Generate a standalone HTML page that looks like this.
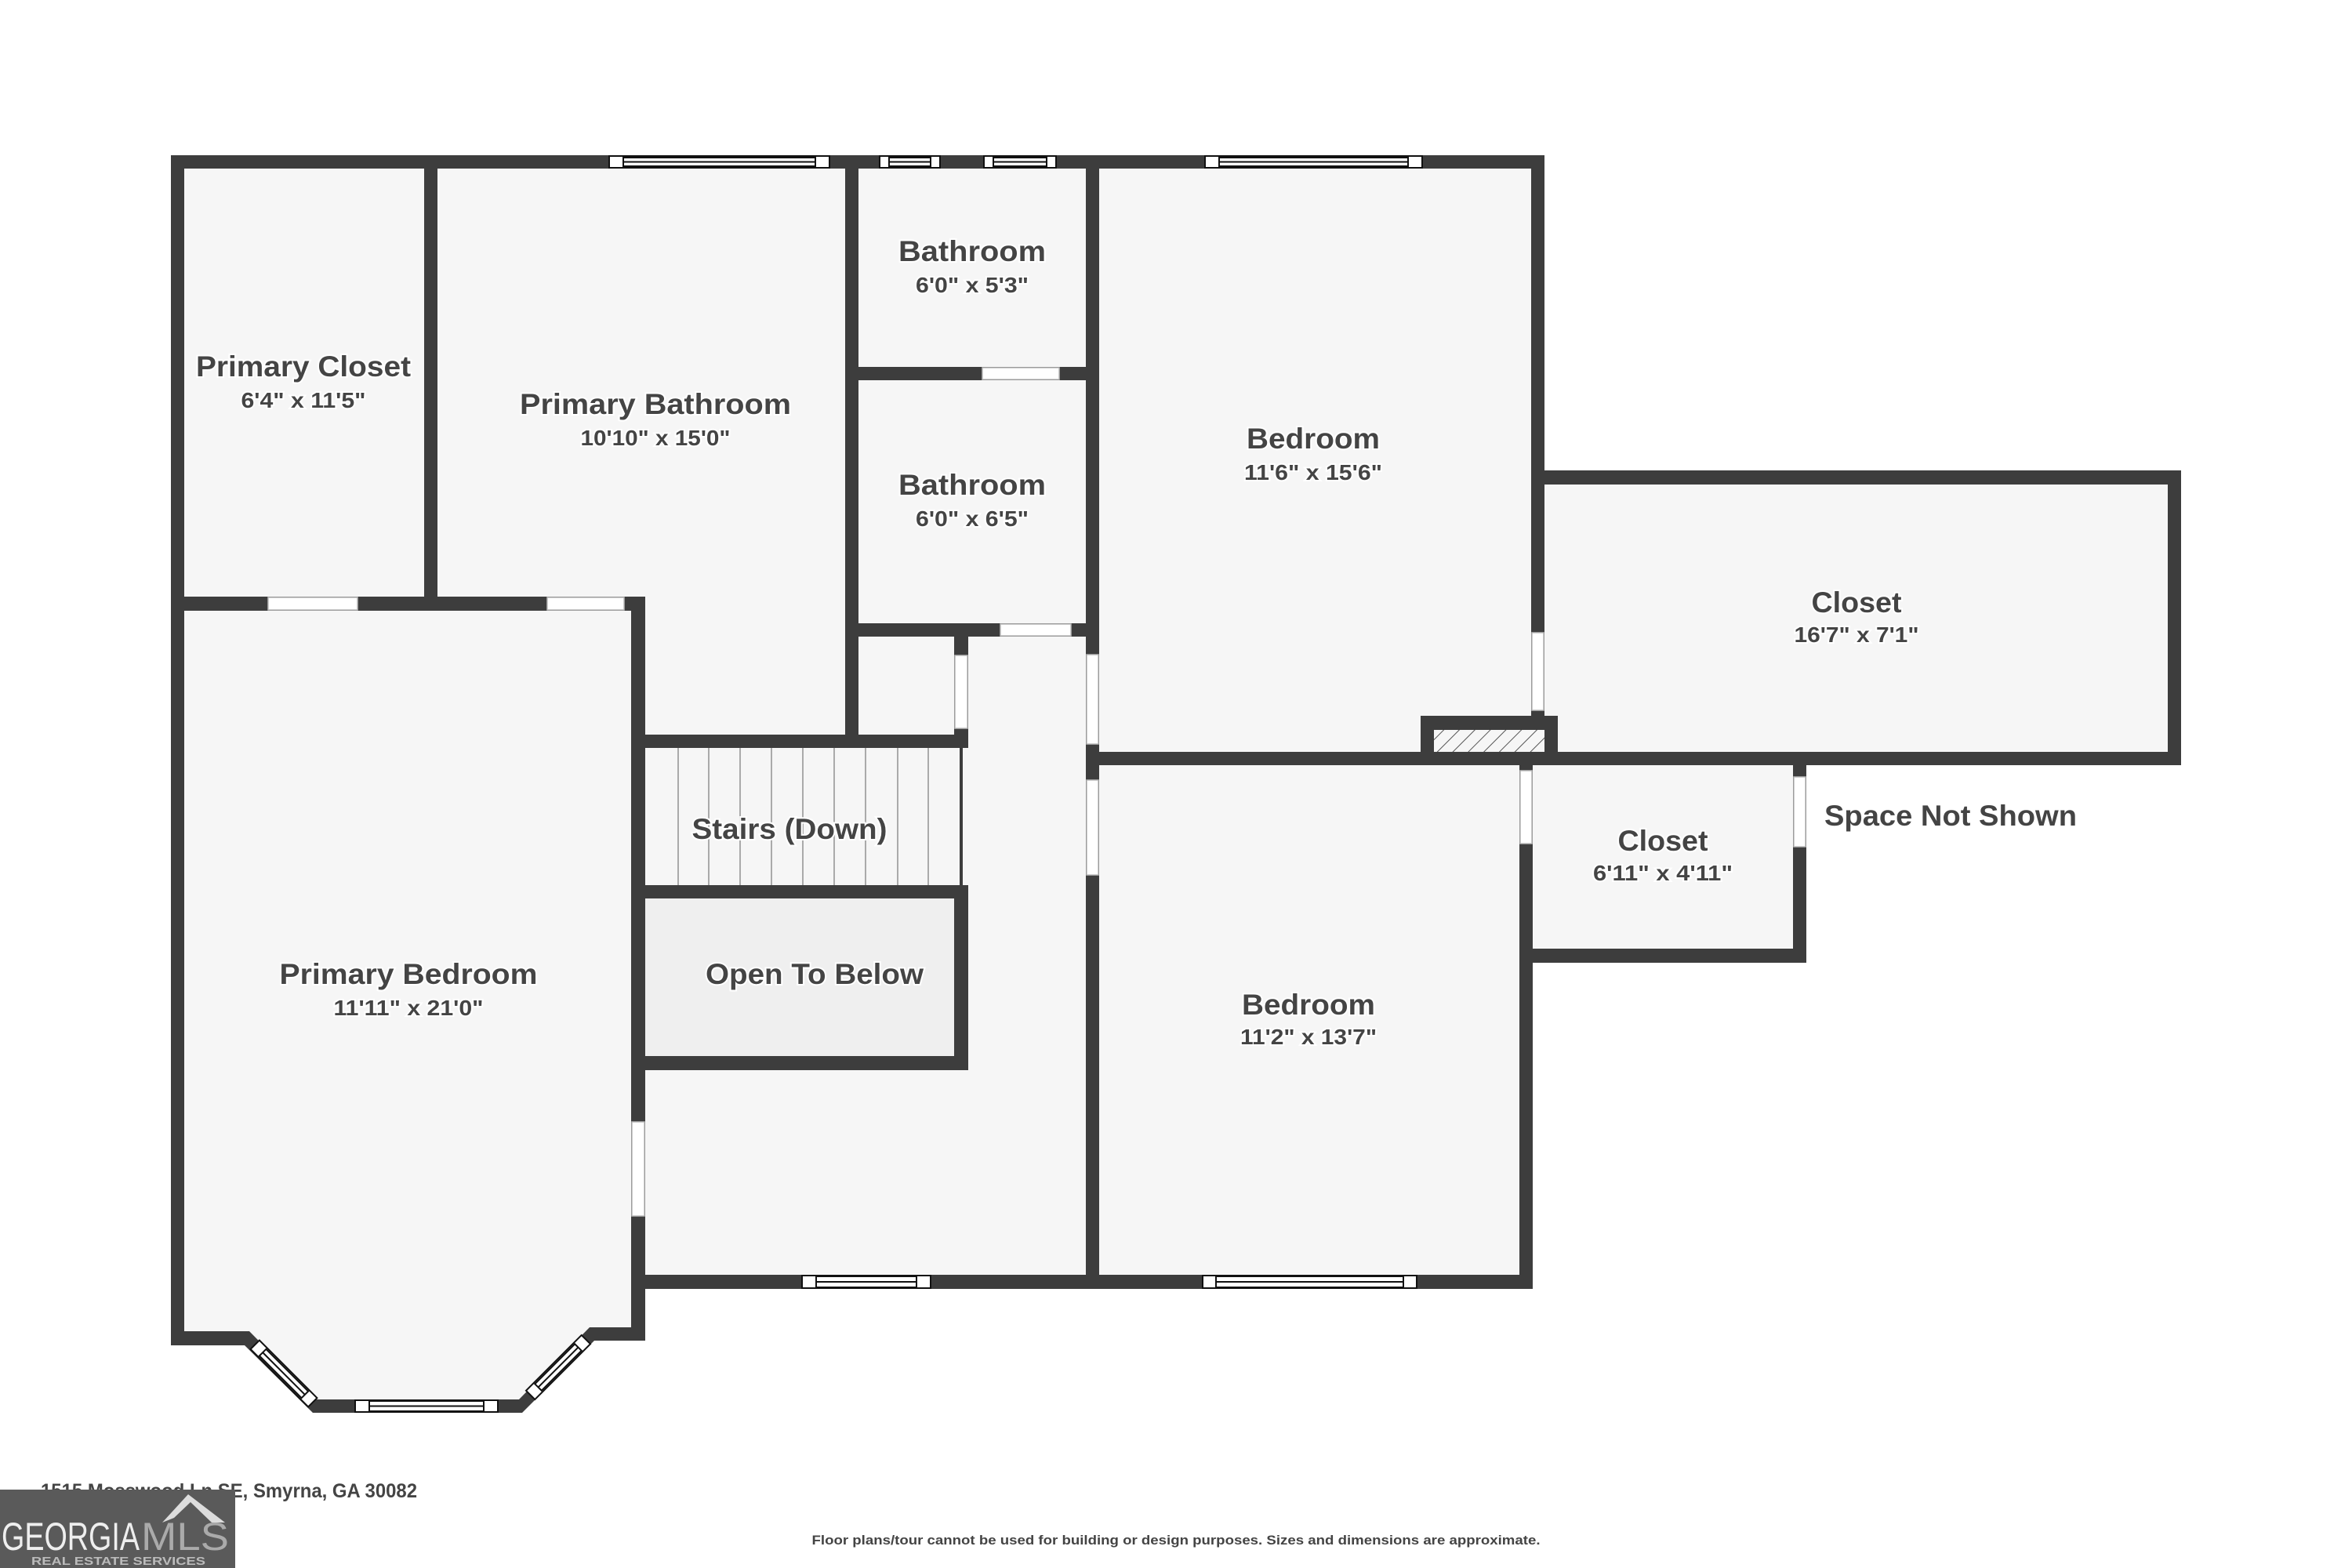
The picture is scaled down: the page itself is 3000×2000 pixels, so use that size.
<!DOCTYPE html>
<html><head><meta charset="utf-8"><style>
html,body{margin:0;padding:0;background:#fff;}
svg{display:block;}
.t{font-family:"Liberation Sans",sans-serif;font-weight:bold;fill:#444;text-anchor:middle;paint-order:stroke;stroke:#fff;stroke-width:4px;}
.ti{font-size:37px;}
.di{font-size:28px;}
</style></head><body>
<svg width="3000" height="2000" viewBox="0 0 3000 2000" xmlns="http://www.w3.org/2000/svg">
<defs>
<pattern id="hatch" width="14" height="14" patternUnits="userSpaceOnUse" patternTransform="rotate(45)">
<rect width="14" height="14" fill="#f6f6f6"/><line x1="0" y1="0" x2="0" y2="14" stroke="#555" stroke-width="2"/>
</pattern>
</defs>
<rect width="3000" height="2000" fill="#fff"/>
<!-- floors -->
<g fill="#f6f6f6">
<rect x="218" y="198" width="1752" height="777"/>
<rect x="218" y="975" width="1737" height="669"/>
<rect x="1953" y="600" width="829" height="376"/>
<rect x="1938" y="960" width="366" height="268"/>
<polygon points="218,1640 823,1640 823,1710 758,1710 666,1802 399,1802 312,1716 218,1716"/>
</g>
<rect x="823" y="1146" width="394" height="201" fill="#efefef"/>
<!-- stair treads -->
<g stroke="#aaa" stroke-width="2">
<line x1="865" y1="954" x2="865" y2="1129"/><line x1="904" y1="954" x2="904" y2="1129"/>
<line x1="944" y1="954" x2="944" y2="1129"/><line x1="984" y1="954" x2="984" y2="1129"/>
<line x1="1024" y1="954" x2="1024" y2="1129"/><line x1="1064" y1="954" x2="1064" y2="1129"/>
<line x1="1104" y1="954" x2="1104" y2="1129"/><line x1="1145" y1="954" x2="1145" y2="1129"/>
<line x1="1184" y1="954" x2="1184" y2="1129"/>
</g>
<line x1="1226" y1="954" x2="1226" y2="1129" stroke="#3d3d3d" stroke-width="4"/>
<!-- walls -->
<g fill="#3d3d3d">
<rect x="218" y="198" width="1752" height="17"/>
<rect x="218" y="198" width="17" height="1518"/>
<rect x="541" y="198" width="17" height="581"/>
<rect x="218" y="761" width="604" height="18"/>
<rect x="805" y="761" width="18" height="949"/>
<polygon points="218,1698 318,1698 404,1785 662,1785 752,1693 823,1693 823,1710 758,1710 666,1802 399,1802 312,1716 218,1716"/>
<rect x="1078" y="198" width="17" height="756"/>
<rect x="805" y="937" width="430" height="17"/>
<rect x="1217" y="795" width="18" height="159"/>
<rect x="1078" y="468" width="324" height="17"/>
<rect x="1078" y="795" width="324" height="17"/>
<rect x="1385" y="198" width="17" height="1446"/>
<rect x="805" y="1129" width="430" height="17"/>
<rect x="1217" y="1129" width="18" height="236"/>
<rect x="805" y="1347" width="430" height="18"/>
<rect x="805" y="1626" width="1150" height="18"/>
<rect x="1953" y="198" width="17" height="777"/>
<rect x="1385" y="959" width="1397" height="17"/>
<rect x="1953" y="600" width="829" height="18"/>
<rect x="2765" y="600" width="17" height="376"/>
<rect x="1812" y="913" width="175" height="62"/>
<rect x="1938" y="959" width="17" height="685"/>
<rect x="2287" y="959" width="17" height="269"/>
<rect x="1938" y="1210" width="366" height="18"/>
</g>
<rect x="1829" y="931" width="141" height="28" fill="url(#hatch)"/>
<!-- door openings -->
<g fill="#fff" stroke="#bbb" stroke-width="1.5">
<rect x="342" y="762" width="114" height="16"/>
<rect x="698" y="762" width="98" height="16"/>
<rect x="806" y="1431" width="16" height="120"/>
<rect x="1218" y="836" width="16" height="93"/>
<rect x="1253" y="469" width="98" height="15"/>
<rect x="1276" y="796" width="90" height="15"/>
<rect x="1386" y="835" width="15" height="114"/>
<rect x="1386" y="995" width="15" height="121"/>
<rect x="1954" y="807" width="15" height="99"/>
<rect x="1939" y="983" width="15" height="93"/>
<rect x="2288" y="991" width="15" height="89"/>
</g>
<!-- windows -->
<g fill="#fff" stroke="#111" stroke-width="2">
<g><rect x="777" y="199" width="281" height="15"/><rect x="795" y="201" width="245" height="11"/><line x1="795" y1="206.5" x2="1040" y2="206.5"/></g>
<g><rect x="1122" y="199" width="77" height="15"/><rect x="1134" y="201" width="53" height="11"/><line x1="1134" y1="206.5" x2="1187" y2="206.5"/></g>
<g><rect x="1255" y="199" width="92" height="15"/><rect x="1267" y="201" width="68" height="11"/><line x1="1267" y1="206.5" x2="1335" y2="206.5"/></g>
<g><rect x="1537" y="199" width="277" height="15"/><rect x="1555" y="201" width="241" height="11"/><line x1="1555" y1="206.5" x2="1796" y2="206.5"/></g>
<g><rect x="1023" y="1627" width="164" height="16"/><rect x="1041" y="1628" width="128" height="14"/><line x1="1041" y1="1635" x2="1169" y2="1635"/></g>
<g><rect x="1534" y="1627" width="273" height="16"/><rect x="1551" y="1628" width="239" height="14"/><line x1="1551" y1="1635" x2="1790" y2="1635"/></g>
<g><rect x="453" y="1786" width="182" height="15"/><rect x="471" y="1787" width="146" height="13"/><line x1="471" y1="1793.5" x2="617" y2="1793.5"/></g>
<g transform="translate(362,1752) rotate(45)"><rect x="-52" y="-8" width="104" height="16"/><rect x="-38" y="-6" width="76" height="12"/><line x1="-38" y1="0" x2="38" y2="0"/></g>
<g transform="translate(712,1744) rotate(-45)"><rect x="-50" y="-8" width="100" height="16"/><rect x="-36" y="-6" width="72" height="12"/><line x1="-36" y1="0" x2="36" y2="0"/></g>
</g>
<!-- labels -->
<text class="t ti" x="387" y="480" textLength="274" lengthAdjust="spacingAndGlyphs">Primary Closet</text>
<text class="t di" x="387" y="520" textLength="159" lengthAdjust="spacingAndGlyphs">6'4" x 11'5"</text>
<text class="t ti" x="836" y="528" textLength="346" lengthAdjust="spacingAndGlyphs">Primary Bathroom</text>
<text class="t di" x="836" y="568" textLength="191" lengthAdjust="spacingAndGlyphs">10'10" x 15'0"</text>
<text class="t ti" x="1240" y="333" textLength="188" lengthAdjust="spacingAndGlyphs">Bathroom</text>
<text class="t di" x="1240" y="373" textLength="144" lengthAdjust="spacingAndGlyphs">6'0" x 5'3"</text>
<text class="t ti" x="1240" y="631" textLength="188" lengthAdjust="spacingAndGlyphs">Bathroom</text>
<text class="t di" x="1240" y="671" textLength="144" lengthAdjust="spacingAndGlyphs">6'0" x 6'5"</text>
<text class="t ti" x="1675" y="572" textLength="170" lengthAdjust="spacingAndGlyphs">Bedroom</text>
<text class="t di" x="1675" y="612" textLength="176" lengthAdjust="spacingAndGlyphs">11'6" x 15'6"</text>
<text class="t ti" x="2368" y="781" textLength="115" lengthAdjust="spacingAndGlyphs">Closet</text>
<text class="t di" x="2368" y="819" textLength="159" lengthAdjust="spacingAndGlyphs">16'7" x 7'1"</text>
<text class="t ti" x="1007" y="1070" textLength="249" lengthAdjust="spacingAndGlyphs">Stairs (Down)</text>
<text class="t ti" x="1039" y="1255" textLength="278" lengthAdjust="spacingAndGlyphs">Open To Below</text>
<text class="t ti" x="521" y="1255" textLength="329" lengthAdjust="spacingAndGlyphs">Primary Bedroom</text>
<text class="t di" x="521" y="1295" textLength="191" lengthAdjust="spacingAndGlyphs">11'11" x 21'0"</text>
<text class="t ti" x="2121" y="1085" textLength="115" lengthAdjust="spacingAndGlyphs">Closet</text>
<text class="t di" x="2121" y="1123" textLength="178" lengthAdjust="spacingAndGlyphs">6'11" x 4'11"</text>
<text class="t ti" x="1669" y="1294" textLength="170" lengthAdjust="spacingAndGlyphs">Bedroom</text>
<text class="t di" x="1669" y="1332" textLength="174" lengthAdjust="spacingAndGlyphs">11'2" x 13'7"</text>
<text class="t ti" x="2488" y="1053" textLength="322" lengthAdjust="spacingAndGlyphs">Space Not Shown</text>
<!-- footer -->
<text class="t" x="292" y="1910" font-size="25" textLength="480" lengthAdjust="spacingAndGlyphs" style="stroke:none">1515 Mosswood Ln SE, Smyrna, GA 30082</text>
<text class="t" x="1500" y="1970" font-size="17" textLength="929" lengthAdjust="spacingAndGlyphs" style="stroke:none">Floor plans/tour cannot be used for building or design purposes. Sizes and dimensions are approximate.</text>
<rect x="0" y="1900" width="300" height="100" fill="#5a5a5a"/>
<polygon points="207,1942 240,1906 287,1942 270,1942 243,1916 222,1936" fill="#ddd"/>
<text x="2" y="1977" font-family="Liberation Sans,sans-serif" font-size="50" fill="#eee" textLength="176" lengthAdjust="spacingAndGlyphs">GEORGIA</text>
<text x="180" y="1977" font-family="Liberation Sans,sans-serif" font-size="50" fill="#aaa" textLength="112" lengthAdjust="spacingAndGlyphs">MLS</text>
<text x="40" y="1996" font-family="Liberation Sans,sans-serif" font-weight="bold" font-size="15" fill="#bbb" textLength="222" lengthAdjust="spacingAndGlyphs">REAL ESTATE SERVICES</text>
</svg>
</body></html>
